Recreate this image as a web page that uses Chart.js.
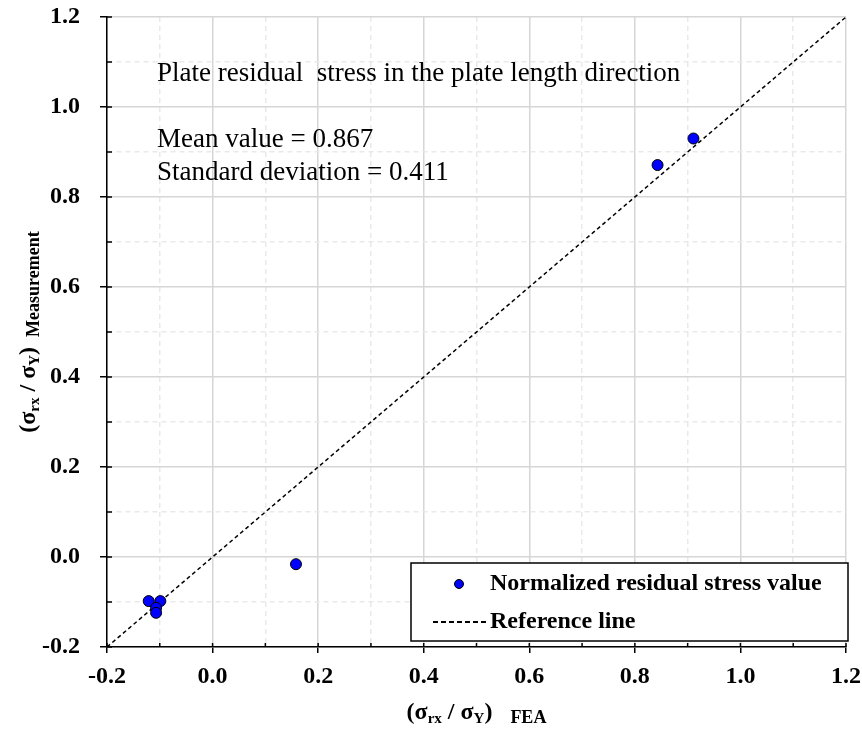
<!DOCTYPE html>
<html>
<head>
<meta charset="utf-8">
<script src="https://cdn.jsdelivr.net/npm/chart.js@4.4.1/dist/chart.umd.min.js"></script>
<style>
  html, body { margin: 0; padding: 0; background: #fff; }
  #wrap { width: 862px; height: 734px; }
</style>
</head>
<body>
<div id="wrap"><canvas id="stressChart" width="862" height="734"></canvas></div>
<script>
// normalized residual stress, FEA vs measurement
const feaValues = [-0.121, -0.099, -0.107, -0.107, 0.158, 0.843, 0.911];
const measuredValues = [-0.098, -0.098, -0.113, -0.124, -0.016, 0.871, 0.930];

// 1:1 reference line
const refLineX = [-0.2, 1.2];
const refLineY = [-0.2, 1.2];

const axisTicks = [-0.2, 0.0, 0.2, 0.4, 0.6, 0.8, 1.0, 1.2];

const noteLines = [
    'Plate residual  stress in the plate length direction',
    'Mean value = 0.867',
    'Standard deviation = 0.411'
];

const SERIF = "'Liberation Serif', 'Times New Roman', serif";
Chart.defaults.font.family = SERIF;
Chart.defaults.color = '#000';

function isMajor(v) {
    return axisTicks.some(t => Math.abs(t - v) < 1e-6);
}

function gridColor(ctx) {
    if (!ctx.tick) return '#d9d9d9';
    return isMajor(ctx.tick.value) ? '#d6d6d6' : '#e9e9e9';
}

function gridDash(ctx) {
    if (!ctx.tick) return [];
    return isMajor(ctx.tick.value) ? [] : [5, 4];
}

function tickColor(ctx) {
    if (!ctx.tick) return '#000';
    return isMajor(ctx.tick.value) ? '#000' : 'rgba(0,0,0,0)';
}

function tickLabel(value) {
    if (!isMajor(value)) return '';
    if (Math.abs(value) < 1e-9) value = 0;
    return Number(value).toFixed(1);
}

function makeScale(pos) {
    return {
        type: 'linear',
        position: pos,
        min: -0.2,
        max: 1.2,
        ticks: {
            stepSize: 0.1,
            autoSkip: false,
            maxRotation: 0,
            callback: tickLabel,
            font: { size: 24, weight: 'bold' },
            padding: pos === 'bottom' ? 9 : 20
        },
        grid: {
            color: gridColor,
            lineWidth: 1.5,
            tickColor: tickColor,
            tickWidth: 1.5,
            tickLength: pos === 'bottom' ? 6 : 7
        },
        border: {
            display: true,
            color: '#000',
            width: 1.5,
            dash: gridDash
        },
        afterFit: s => {
            if (pos === 'bottom') s.height = 87;
            else s.width = 107;
            // keep the plot frame fixed, labels may overhang
            s.paddingTop = 0;
            s.paddingBottom = 0;
            s.paddingLeft = 0;
            s.paddingRight = 0;
        }
    };
}

function drawRich(ctx, parts, startX, baseY) {
    let x = startX;
    parts.forEach(p => {
        ctx.font = 'bold ' + p.size + 'px ' + SERIF;
        x += p.gap || 0;
        ctx.fillText(p.text, x, baseY + (p.dy || 0));
        x += ctx.measureText(p.text).width;
    });
}

function richWidth(ctx, parts) {
    let w = 0;
    parts.forEach(p => {
        ctx.font = 'bold ' + p.size + 'px ' + SERIF;
        w += (p.gap || 0) + ctx.measureText(p.text).width;
    });
    return w;
}

function titleParts(sub, gap) {
    return [
        { text: '(σ', size: 24 },
        { text: 'rx', size: 15, dy: 4 },
        { text: ' / σ', size: 24 },
        { text: 'Y', size: 15, dy: 4 },
        { text: ')', size: 24 },
        { text: sub, size: 18, dy: 4, gap: gap }
    ];
}

const decorPlugin = {
    id: 'decor',
    afterDatasetsDraw(chart) {
        const ctx = chart.ctx;
        const area = chart.chartArea;
        const xs = chart.scales.x;
        const ys = chart.scales.y;

        ctx.save();
        // small inward tick marks
        ctx.strokeStyle = '#000';
        ctx.lineWidth = 1.5;
        ctx.beginPath();
        xs.ticks.forEach(t => {
            const px = xs.getPixelForValue(t.value);
            ctx.moveTo(px, area.bottom);
            ctx.lineTo(px, area.bottom - 4);
        });
        ys.ticks.forEach(t => {
            const py = ys.getPixelForValue(t.value);
            ctx.moveTo(area.left, py);
            ctx.lineTo(area.left + 5, py);
        });
        ctx.stroke();

        // notes
        ctx.fillStyle = '#000';
        ctx.textBaseline = 'alphabetic';
        ctx.textAlign = 'left';
        ctx.font = '27px ' + SERIF;
        ctx.fillText(noteLines[0], area.left + 50, 81);
        ctx.fillText(noteLines[1], area.left + 50, 147);
        ctx.fillText(noteLines[2], area.left + 50, 180);

        // legend box
        const bx = area.right - 435, by = area.bottom - 84, bw = 437, bh = 78;
        ctx.fillStyle = '#fff';
        ctx.fillRect(bx, by, bw, bh);
        ctx.strokeStyle = '#000';
        ctx.lineWidth = 1.5;
        ctx.strokeRect(bx, by, bw, bh);

        const pts = chart.data.datasets[0];
        const ref = chart.data.datasets[1];
        ctx.beginPath();
        ctx.arc(bx + 48, by + 21, 4.5, 0, Math.PI * 2);
        ctx.fillStyle = pts.backgroundColor;
        ctx.fill();
        ctx.lineWidth = 1;
        ctx.strokeStyle = pts.borderColor;
        ctx.stroke();

        ctx.beginPath();
        ctx.setLineDash([5, 3]);
        ctx.lineWidth = 2;
        ctx.strokeStyle = ref.borderColor;
        ctx.moveTo(bx + 22, by + 59);
        ctx.lineTo(bx + 75, by + 59);
        ctx.stroke();
        ctx.setLineDash([]);

        ctx.fillStyle = '#000';
        ctx.textBaseline = 'middle';
        ctx.font = 'bold 24px ' + SERIF;
        ctx.fillText(pts.label, bx + 79, by + 21);
        ctx.fillText(ref.label, bx + 79, by + 59);

        // axis titles
        ctx.textBaseline = 'alphabetic';
        const xp = titleParts('FEA', 18);
        const cx = (area.left + area.right) / 2;
        drawRich(ctx, xp, cx - richWidth(ctx, xp) / 2, 719);

        const yp = titleParts('Measurement', 10);
        const cy = (area.top + area.bottom) / 2;
        ctx.translate(35, cy + richWidth(ctx, yp) / 2);
        ctx.rotate(-Math.PI / 2);
        drawRich(ctx, yp, 0, 0);
        ctx.restore();
    }
};

new Chart(document.getElementById('stressChart'), {
    type: 'scatter',
    data: {
        datasets: [
            {
                label: 'Normalized residual stress value',
                data: feaValues.map((v, i) => ({ x: v, y: measuredValues[i] })),
                backgroundColor: '#0000ff',
                borderColor: '#000',
                borderWidth: 1,
                pointRadius: 5.5,
                order: 0
            },
            {
                label: 'Reference line',
                data: refLineX.map((v, i) => ({ x: v, y: refLineY[i] })),
                showLine: true,
                borderColor: '#000',
                borderWidth: 1.5,
                borderDash: [4, 3],
                pointRadius: 0,
                fill: false,
                order: 1
            }
        ]
    },
    options: {
        responsive: false,
        animation: false,
        layout: { padding: { top: 17, right: 16, left: 0, bottom: 0 } },
        plugins: {
            legend: { display: false },
            tooltip: { enabled: false }
        },
        scales: {
            x: makeScale('bottom'),
            y: makeScale('left')
        }
    },
    plugins: [decorPlugin]
});
</script>
</body>
</html>
